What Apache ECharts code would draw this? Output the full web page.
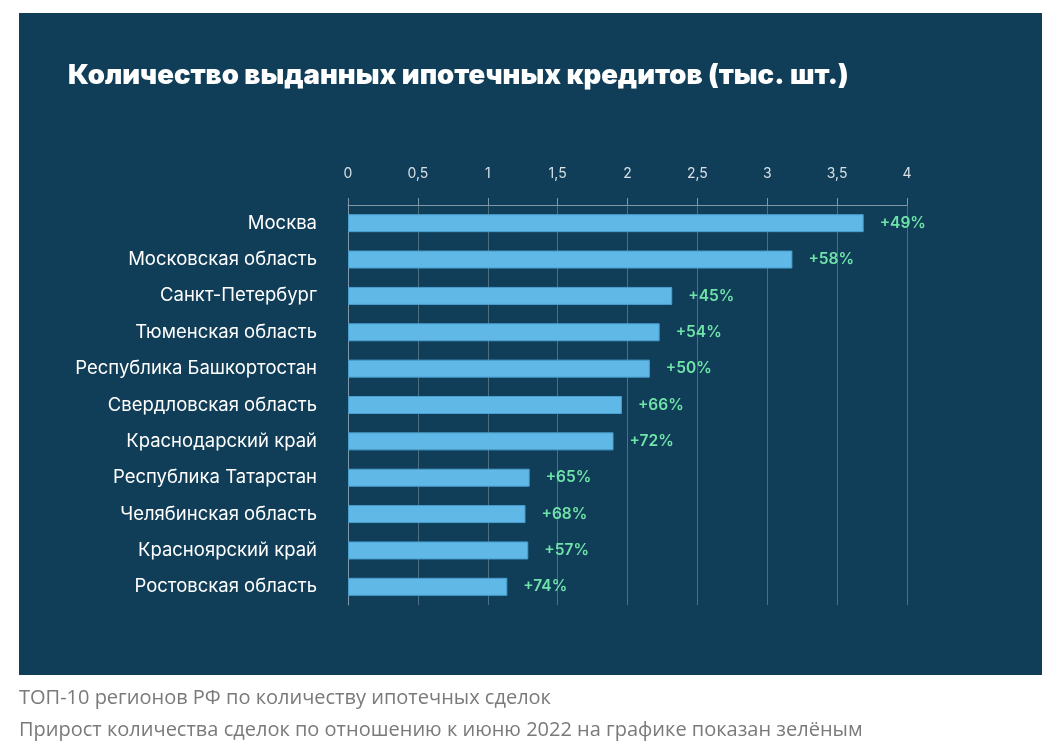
<!DOCTYPE html>
<html><head><meta charset="utf-8">
<script src="https://cdn.jsdelivr.net/npm/echarts@6/dist/echarts.min.js"></script>
<style>html,body{margin:0;padding:0;background:#fff}#c{width:1055px;height:756px}</style>
</head><body><div id="c"></div>
<script>
const categories = ["Москва","Московская область","Санкт-Петербург","Тюменская область","Республика Башкортостан","Свердловская область","Краснодарский край","Республика Татарстан","Челябинская область","Красноярский край","Ростовская область"];
const values = [3.69, 3.18, 2.32, 2.23, 2.16, 1.96, 1.90, 1.30, 1.27, 1.29, 1.14];
const growth = ["+49%","+58%","+45%","+54%","+50%","+66%","+72%","+65%","+68%","+57%","+74%"];
const tickLabels = ["0","0,5","1","1,5","2","2,5","3","3,5","4"];
const titleText = "Количество выданных ипотечных кредитов (тыс. шт.)";
const caption1 = "ТОП-10 регионов РФ по количеству ипотечных сделок";
const caption2 = "Прирост количества сделок по отношению к июню 2022 на графике показан зелёным";

const chart = echarts.init(document.getElementById('c'), null, {renderer:'canvas'});
chart.setOption({
  backgroundColor:'#ffffff',
  animation:false,
  graphic:[
    {type:'rect', z:-10, shape:{x:19,y:13,width:1023,height:662}, style:{fill:'#103d57'}},
    {type:'text', left:19, top:688, style:{text:caption1, fill:'#7a7a7a', font:'20px "Open Sans"'}},
    {type:'text', left:19, top:720, style:{text:caption2, fill:'#7a7a7a', font:'20px "Open Sans"'}}
  ],
  title:{text:titleText, left:63, top:57, textStyle:{color:'#ffffff', fontFamily:'Inter', fontWeight:900, fontSize:27.5}},
  grid:{left:348, right:148, top:205, bottom:151},
  xAxis:{type:'value', position:'top', min:0, max:4, interval:0.5,
    axisLine:{show:true, lineStyle:{color:'#7e98a8', width:1}},
    axisTick:{show:true, length:7, lineStyle:{color:'#7e98a8'}},
    splitLine:{show:true, lineStyle:{color:'#4e6f82', width:1}},
    axisLabel:{color:'#d6e0e6', fontFamily:'Inter', fontSize:14, margin:24,
      formatter:(v)=>tickLabels[Math.round(v*2)]}
  },
  yAxis:{type:'category', inverse:true, data:categories,
    axisLine:{show:true, lineStyle:{color:'#7e98a8'}},
    axisTick:{show:false},
    axisLabel:{color:'#ffffff', fontFamily:'Inter', fontSize:18.5, margin:31, padding:[0,0,4,0]}
  },
  series:[{type:'bar', data:values, barWidth:18,
    itemStyle:{color:'#5fb8e6', borderColor:'#4a9fcf', borderWidth:1},
    label:{show:true, position:'right', distance:16, color:'#6fe3a9', fontFamily:'Inter', fontWeight:600, fontSize:15.5,
      formatter:(p)=>growth[p.dataIndex]}
  }]
});
</script></body></html>
